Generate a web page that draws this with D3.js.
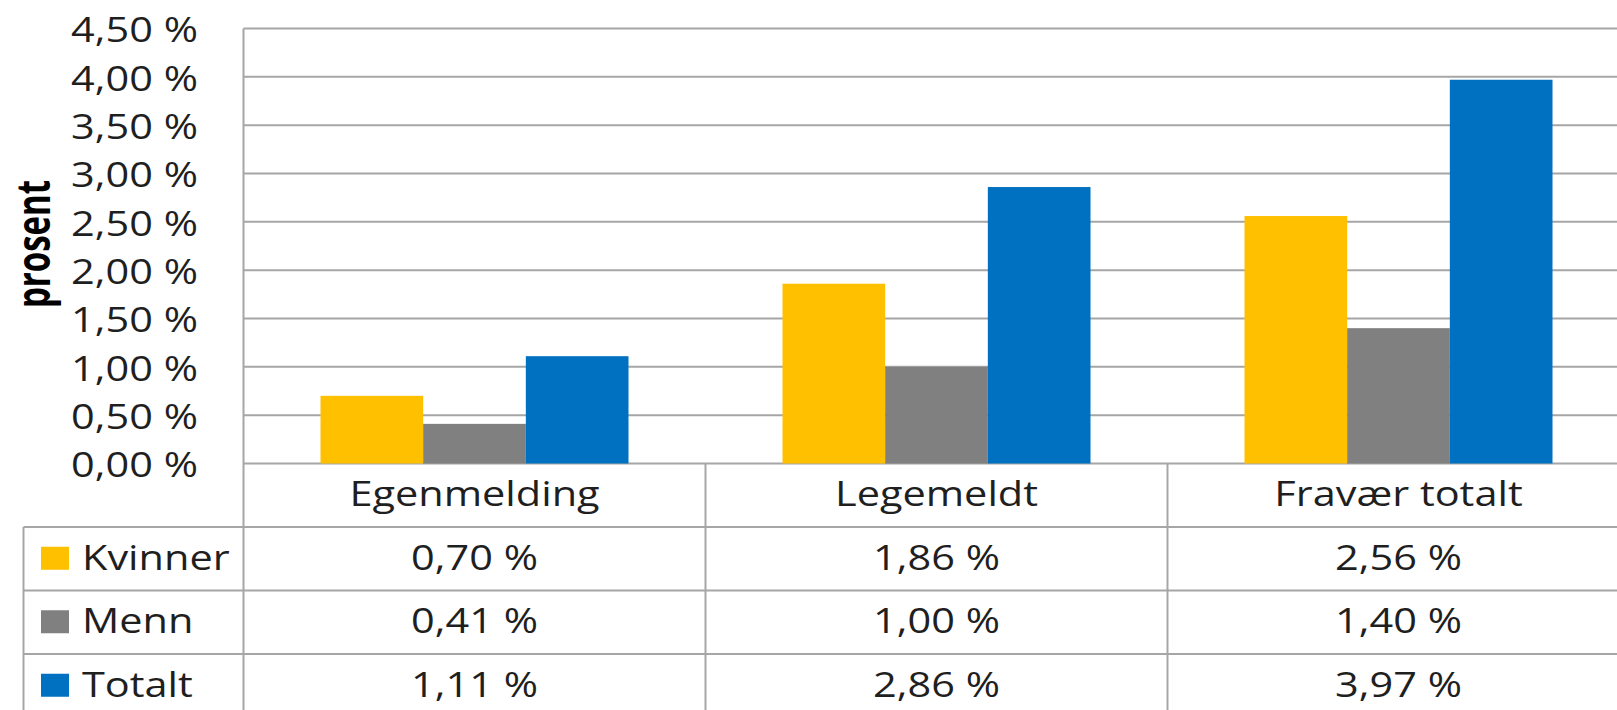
<!DOCTYPE html>
<html>
<head>
<meta charset="utf-8">
<script src="https://cdn.jsdelivr.net/npm/d3@7"></script>
<style>
  html, body { margin: 0; padding: 0; background: #fff; }
  svg { display: block; font-family: "Open Sans", "Noto Sans", sans-serif; }
</style>
</head>
<body>
<svg id="chart" width="1617" height="710"></svg>
<script>
// Sykefravær by type and gender
const categories = ["Egenmelding", "Legemeldt", "Fravær totalt"];
const seriesNames = ["Kvinner", "Menn", "Totalt"];
const kvinner = [0.70, 1.86, 2.56];
const menn = [0.41, 1.00, 1.40];
const totalt = [1.11, 2.86, 3.97];
const yTicks = [0, 0.5, 1, 1.5, 2, 2.5, 3, 3.5, 4, 4.5];
const yTitle = "prosent";

const seriesValues = [kvinner, menn, totalt];
const colors = ["#FFC000", "#808080", "#0070C0"];

const plotLeft = 243.5, plotRight = 1629.5, plotTop = 28.5, plotBottom = 463.5;
const rowH = 63.5;              // height of one data-table row
const legendLeft = 23.5;        // left edge of the legend column
const sx = 1.22;                // horizontal widening of all text
const fontSize = 34;
const textColor = "#1f1f1f";
const lineColor = "#a6a6a6";

const nb = d3.formatLocale({ decimal: ",", thousands: " ", grouping: [3], currency: ["", ""] });
const fmt = v => nb.format(".2f")(v) + " %";

const svg = d3.select("#chart");

const x = d3.scaleBand().domain(categories).range([plotLeft, plotRight]).paddingInner(0).paddingOuter(0);
const xs = d3.scaleBand().domain(seriesNames).range([0, x.bandwidth()]).paddingInner(0).paddingOuter(0.75);
const y = d3.scaleLinear().domain([0, 4.5]).range([plotBottom, plotTop]);

// horizontal gridlines
svg.append("g")
  .selectAll("line")
  .data(yTicks)
  .join("line")
  .attr("x1", plotLeft).attr("x2", plotRight)
  .attr("y1", d => y(d)).attr("y2", d => y(d))
  .attr("stroke", lineColor).attr("stroke-width", 2);

// bars
const rows = seriesNames.map((s, i) => ({ name: s, values: seriesValues[i], color: colors[i] }));
svg.append("g")
  .selectAll("g")
  .data(rows)
  .join("g")
  .attr("fill", d => d.color)
  .selectAll("rect")
  .data(d => d.values.map((v, j) => ({ s: d.name, c: categories[j], v })))
  .join("rect")
  .attr("x", d => x(d.c) + xs(d.s))
  .attr("width", xs.bandwidth())
  .attr("y", d => y(d.v))
  .attr("height", d => y(0) - y(d.v));

// y axis labels
const yAxis = svg.append("g")
  .attr("transform", `translate(198,0)`)
  .call(d3.axisLeft(y).tickValues(yTicks).tickFormat(fmt).tickSize(0).tickPadding(0));
yAxis.select(".domain").remove();
yAxis.selectAll("text")
  .attr("x", 0)
  .attr("dy", null)
  .attr("dominant-baseline", "central")
  .attr("transform", `scale(${sx},1)`)
  .attr("font-family", "'Open Sans', sans-serif")
  .attr("font-size", fontSize)
  .attr("fill", textColor)
  .attr("text-anchor", "end");

// y axis title
svg.append("text")
  .attr("transform", `translate(32,244) rotate(-90) scale(1,1.4)`)
  .attr("text-anchor", "middle")
  .attr("dominant-baseline", "central")
  .attr("font-size", 33)
  .attr("font-weight", "bold")
  .attr("fill", "#000")
  .text(yTitle);

// data table grid
const g = svg.append("g").attr("stroke", lineColor).attr("stroke-width", 2).attr("fill", "none");
const tableBottom = plotBottom + rowH * 4;
// plot left edge down through the table
g.append("line").attr("x1", plotLeft).attr("x2", plotLeft).attr("y1", plotTop).attr("y2", tableBottom);
// category separators
categories.slice(1).forEach(c => {
  g.append("line").attr("x1", x(c)).attr("x2", x(c)).attr("y1", plotBottom).attr("y2", tableBottom);
});
// legend column left edge
g.append("line").attr("x1", legendLeft).attr("x2", legendLeft).attr("y1", plotBottom + rowH).attr("y2", tableBottom);
// row lines
[1, 2, 3, 4].forEach(k => {
  g.append("line").attr("x1", legendLeft).attr("x2", plotRight)
    .attr("y1", plotBottom + rowH * k).attr("y2", plotBottom + rowH * k);
});

// category header row
svg.append("g")
  .selectAll("text")
  .data(categories)
  .join("text")
  .attr("transform", d => `translate(${x(d) + x.bandwidth() / 2},${plotBottom + rowH / 2 + 11}) scale(${sx},1)`)
  .attr("text-anchor", "middle")
  .attr("font-size", fontSize)
  .attr("fill", textColor)
  .text(d => d);

// table rows: legend key + values
rows.forEach((r, i) => {
  const rowTop = plotBottom + rowH * (i + 1);
  const cy = rowTop + rowH / 2;
  svg.append("rect")
    .attr("x", 41).attr("y", cy - 12)
    .attr("width", 28).attr("height", 23)
    .attr("fill", r.color);
  svg.append("text")
    .attr("transform", `translate(82,${cy + 11}) scale(${sx},1)`)
    .attr("font-size", fontSize)
    .attr("fill", textColor)
    .text(r.name);
  svg.append("g")
    .selectAll("text")
    .data(r.values.map((v, j) => ({ v, c: categories[j] })))
    .join("text")
    .attr("transform", d => `translate(${x(d.c) + x.bandwidth() / 2},${cy + 11}) scale(${sx},1)`)
    .attr("text-anchor", "middle")
    .attr("font-size", fontSize)
    .attr("fill", textColor)
    .text(d => fmt(d.v));
});
</script>
</body>
</html>
